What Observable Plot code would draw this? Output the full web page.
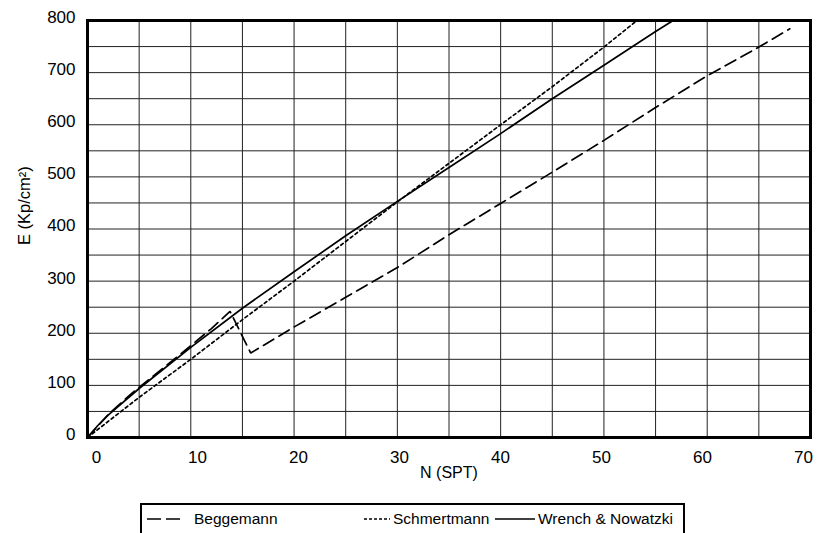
<!DOCTYPE html>
<html><head><meta charset="utf-8">
<script src="https://cdn.jsdelivr.net/npm/d3@7"></script>
<script src="https://cdn.jsdelivr.net/npm/@observablehq/plot@0.6"></script>
<style>
body{margin:0;background:#fff;font-family:"Liberation Sans",Arial,sans-serif;}
#chart svg{display:block;}
#legend{position:relative;margin-left:140px;margin-top:8px;width:541px;height:32px;border:2px solid #000;font-size:15.5px;color:#000;}
#legend .it{position:absolute;top:0;height:28px;line-height:28px;white-space:nowrap;}
#legend svg{position:absolute;top:0;}
</style></head><body>
<div id="chart"></div>
<div id="legend"></div>
<script>
// Series: Beggemann (dashed)
const beggN = [0, 2, 4, 6, 8, 10, 12, 13.8, 15.8, 20, 25, 30, 35, 40, 45, 50, 55, 60, 65, 68];
const beggE = [0, 44, 80, 112, 144, 176, 209, 242, 162, 212, 269, 326, 389, 449, 509, 570, 633, 694, 749, 784];
// Series: Schmertmann (dotted)
const schmN = [0, 5, 10, 15, 20, 25, 30, 35, 40, 45, 50, 53.2];
const schmE = [0, 77, 150, 226, 300, 376, 452, 526, 600, 673, 749, 800];
// Series: Wrench & Nowatzki (solid)
const wrenN = [0, 1, 2, 5, 10, 15, 20, 25, 30, 35, 40, 45, 50, 55, 56.7];
const wrenE = [0, 23, 43, 94, 173, 248, 318, 387, 453, 518, 583, 650, 714, 779, 800];
// Axis ticks
const xTicks = [0, 10, 20, 30, 40, 50, 60, 70];
const yTicks = [0, 100, 200, 300, 400, 500, 600, 700, 800];
const xGrid = [5, 10, 15, 20, 25, 30, 35, 40, 45, 50, 55, 60, 65];
const yGrid = [50, 100, 150, 200, 250, 300, 350, 400, 450, 500, 550, 600, 650, 700, 750];
const seriesNames = ["Beggemann", "Schmertmann", "Wrench & Nowatzki"];
const xLabel = "N (SPT)";
const yLabel = "E (Kp/cm²)";

const rows = (ns, es) => ns.map((n, i) => ({N: n, E: es[i]}));
const dashes = ["12,6", "3,3", null];
const tickFont = 17;

// the source places its x tick labels slightly compressed towards the centre
const xLabelShift = (v, i) => 9 - 2.3 * i;

const chart = Plot.plot({
  width: 827, height: 495,
  marginLeft: 87, marginRight: 17, marginTop: 20, marginBottom: 58,
  x: {domain: [0, 70]},
  y: {domain: [0, 800]},
  style: {fontFamily: '"Liberation Sans", Arial, sans-serif', fontSize: "16px", background: "white", color: "black"},
  marks: [
    Plot.gridX(xGrid, {stroke: "#222", strokeOpacity: 1, strokeWidth: 1}),
    Plot.gridY(yGrid, {stroke: "#222", strokeOpacity: 1, strokeWidth: 1}),
    ...xTicks.map((v, i) => Plot.axisX([v], {tickSize: 0, tickPadding: 13, dx: xLabelShift(v, i), label: null, fill: "black", fontSize: tickFont})),
    Plot.axisY(yTicks, {tickSize: 0, tickPadding: 12, dy: -3, label: null, fill: "black", fontSize: tickFont}),
    Plot.line(rows(beggN, beggE), {x: "N", y: "E", stroke: "black", strokeWidth: 1.7, strokeDasharray: dashes[0], strokeLinejoin: "miter"}),
    Plot.line(rows(schmN, schmE), {x: "N", y: "E", stroke: "black", strokeWidth: 1.7, strokeDasharray: dashes[1]}),
    Plot.line(rows(wrenN, wrenE), {x: "N", y: "E", stroke: "black", strokeWidth: 1.7}),
    Plot.frame({stroke: "black", strokeWidth: 3}),
    Plot.text([xLabel], {frameAnchor: "bottom", dy: 40, fill: "black", fontSize: 16}),
    Plot.text([yLabel], {frameAnchor: "left", rotate: -90, dx: -63, dy: 16, fill: "black", fontSize: 16.5})
  ]
});
document.getElementById("chart").appendChild(chart);

// Legend
const legend = document.getElementById("legend");
const items = [
  {sx: 5, sw: 37, tx: 52},
  {sx: 222, sw: 26, tx: 251},
  {sx: 353, sw: 40, tx: 396}
];
seriesNames.forEach((name, i) => {
  const it = items[i];
  const ns = "http://www.w3.org/2000/svg";
  const s = document.createElementNS(ns, "svg");
  s.setAttribute("width", it.sw); s.setAttribute("height", 28);
  s.style.left = it.sx + "px";
  const l = document.createElementNS(ns, "line");
  l.setAttribute("x1", 0); l.setAttribute("x2", it.sw);
  l.setAttribute("y1", 14); l.setAttribute("y2", 14);
  l.setAttribute("stroke", "black"); l.setAttribute("stroke-width", 1.7);
  if (dashes[i]) l.setAttribute("stroke-dasharray", i === 0 ? "14,5" : "3,2");
  s.appendChild(l);
  legend.appendChild(s);
  const t = document.createElement("span");
  t.className = "it"; t.style.left = it.tx + "px"; t.textContent = name;
  legend.appendChild(t);
});
</script></body></html>
